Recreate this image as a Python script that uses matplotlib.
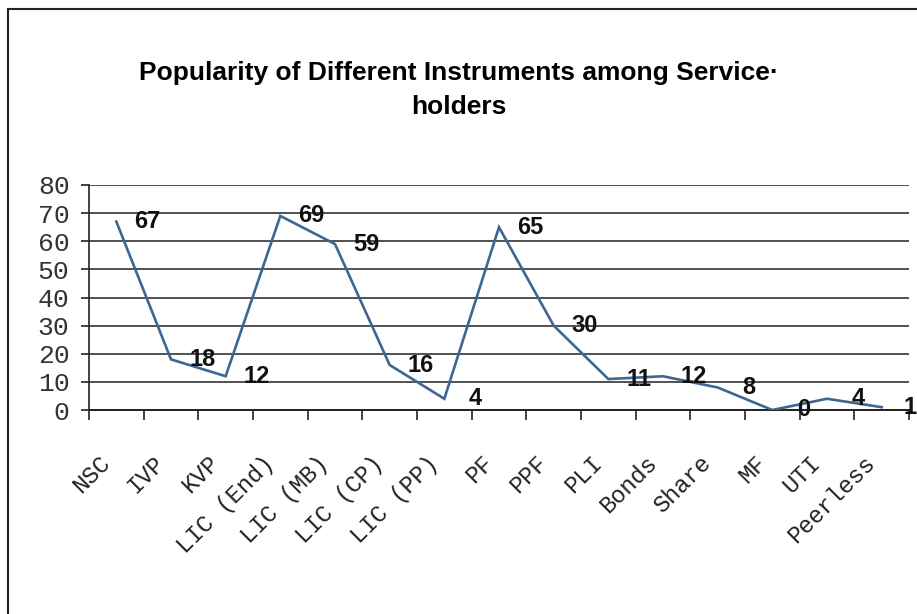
import matplotlib
matplotlib.use("Agg")
import matplotlib.pyplot as plt
from matplotlib.lines import Line2D
import numpy as np

# data
instruments = ["NSC", "IVP", "KVP", "LIC (End)", "LIC (MB)", "LIC (CP)", "LIC (PP)",
               "PF", "PPF", "PLI", "Bonds", "Share", "MF", "UTI", "Peerless"]
popularity = [67, 18, 12, 69, 59, 16, 4, 65, 30, 11, 12, 8, 0, 4, 1]
y_ticks = list(range(0, 81, 10))

title = "Popularity of Different Instruments among Service\u00b7\nholders"

fig = plt.figure(figsize=(9.17, 6.14), dpi=100)
ax = fig.add_axes([89/917, 1 - 410/614, 820/917, 225/614])

x = np.arange(len(instruments))
ax.plot(x, popularity, color="#3d6791", lw=1.9, solid_joinstyle="miter", zorder=3)

# value labels sit to the right of each point
for xi, v in zip(x, popularity):
    dx = 0.57 if xi < len(instruments) - 1 else 0.52
    ax.text(xi + dx, v, str(v), ha="center", va="center", fontsize=17,
            fontweight="bold", family="Liberation Sans", color="#111111",
            zorder=4, clip_on=False)

ax.set_xlim(-0.5, len(instruments) - 0.5)
ax.set_ylim(0, 80)
ax.set_yticks(y_ticks)
ax.set_yticklabels([str(t) for t in y_ticks], family="Liberation Mono", fontsize=19,
                   color="#333333")
ax.tick_params(axis="y", length=6, width=1.2, pad=8, color="#222222")

# category ticks go between the categories, labels are drawn separately
ax.set_xticks(np.arange(-0.5, len(instruments), 1.0))
ax.set_xticklabels([])
ax.tick_params(axis="x", length=7, width=1.2, color="#222222")
for xi, name in zip(x, instruments):
    ax.text(xi - 0.18, -0.22, name, transform=ax.get_xaxis_transform(),
            rotation=45, rotation_mode="anchor", ha="right", va="center",
            family="Liberation Mono", fontsize=17, color="#222222")

ax.grid(axis="y", color="#333333", lw=1.2)
ax.set_axisbelow(True)
for side in ["top", "right"]:
    ax.spines[side].set_visible(False)
ax.spines["left"].set_color("#222222")
ax.spines["bottom"].set_color("#222222")
ax.spines["left"].set_linewidth(1.2)
ax.spines["bottom"].set_linewidth(1.4)

fig.text(0.5, 1 - 90/614, title, ha="center", va="center", fontsize=19,
         fontweight="bold", family="Liberation Sans", linespacing=1.55)

# outer chart border (right and bottom edges are cut off in the reference)
fig.add_artist(Line2D([8/917, 8/917], [0, 1 - 9/614], transform=fig.transFigure,
                      color="#222222", lw=1.5))
fig.add_artist(Line2D([8/917, 1], [1 - 9/614, 1 - 9/614], transform=fig.transFigure,
                      color="#222222", lw=1.5))

fig.savefig("out.png", dpi=100)
